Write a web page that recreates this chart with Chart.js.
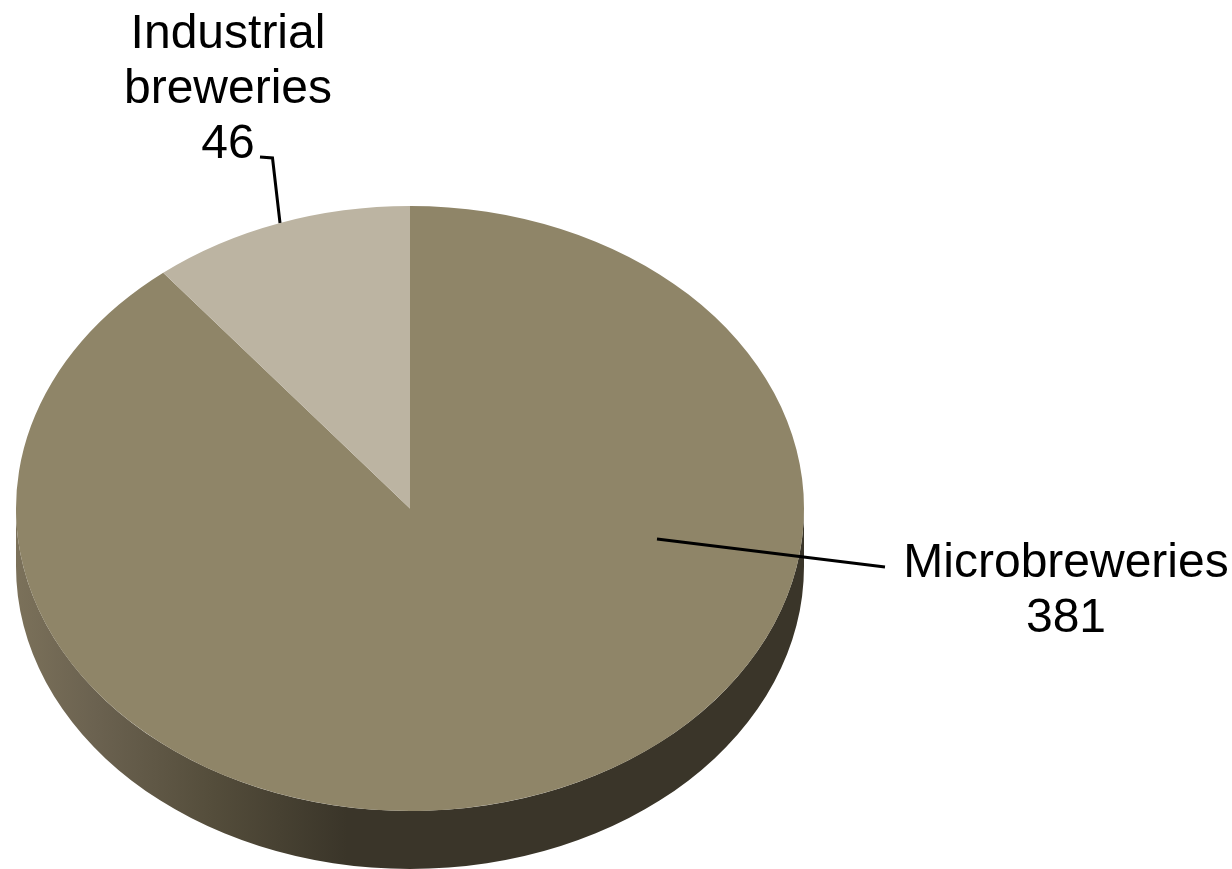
<!DOCTYPE html>
<html>
<head>
<meta charset="utf-8">
<title>Breweries</title>
<style>
  html, body { margin: 0; padding: 0; background: #ffffff; }
  canvas { display: block; }
</style>
<script src="https://cdn.jsdelivr.net/npm/chart.js@4"></script>
</head>
<body>
<canvas id="chartBreweries" width="1232" height="869"></canvas>
<script>
const categories = ['Microbreweries', 'Industrial breweries'];
const breweryCounts = [381, 46];
const sliceColors = ['#8f8568', '#bcb4a2'];
const labelLines = [['Microbreweries', '381'], ['Industrial', 'breweries', '46']];

// centre of the tilted top face and how flat/thick it looks
const pieCenterY = 508.5;
const flatten = 302.5 / 394;
const depth = 58;

const tiltedPie = {
    id: 'tiltedPie',
    beforeDatasetsDraw(chart) {
        const arc = chart.getDatasetMeta(0).data[0];
        const ctx = chart.ctx;
        const rx = arc.outerRadius;
        const ry = rx * flatten;

        // side wall, only the front half shows
        const wall = ctx.createLinearGradient(arc.x - rx, 0, arc.x + rx, 0);
        wall.addColorStop(0, '#7b715a');
        wall.addColorStop(0.1, '#6b6250');
        wall.addColorStop(0.25, '#544d3b');
        wall.addColorStop(0.42, '#3a3529');
        wall.addColorStop(1, '#3a3529');
        ctx.save();
        ctx.fillStyle = wall;
        ctx.beginPath();
        ctx.ellipse(arc.x, pieCenterY, rx, ry, 0, Math.PI, 0, true);
        ctx.lineTo(arc.x + rx, pieCenterY + depth);
        ctx.ellipse(arc.x, pieCenterY + depth, rx, ry, 0, 0, Math.PI, false);
        ctx.closePath();
        ctx.fill();
        ctx.restore();

        // squash the slices into the ellipse
        ctx.save();
        ctx.translate(0, pieCenterY);
        ctx.scale(1, flatten);
        ctx.translate(0, -arc.y);
    },
    afterDatasetsDraw(chart) {
        const ctx = chart.ctx;
        ctx.restore();

        ctx.save();
        ctx.strokeStyle = '#000000';
        ctx.lineWidth = 3;
        ctx.beginPath();
        ctx.moveTo(657, 539);
        ctx.lineTo(885, 567);
        ctx.moveTo(280, 223);
        ctx.lineTo(272.5, 158);
        ctx.lineTo(260, 157);
        ctx.stroke();

        ctx.fillStyle = '#000000';
        ctx.font = '48px "Liberation Sans", Arial, sans-serif';
        ctx.textAlign = 'center';
        labelLines[0].forEach((line, i) => ctx.fillText(line, 1066, 577 + i * 55));
        labelLines[1].forEach((line, i) => ctx.fillText(line, 228, 48 + i * 55));
        ctx.restore();
    }
};

new Chart(document.getElementById('chartBreweries'), {
    type: 'pie',
    data: {
        labels: categories,
        datasets: [{
            label: 'Breweries',
            data: breweryCounts,
            backgroundColor: sliceColors,
            borderWidth: 0
        }]
    },
    options: {
        responsive: false,
        animation: false,
        devicePixelRatio: 1,
        layout: { padding: { left: 16, right: 428, top: 40, bottom: 41 } },
        plugins: {
            legend: { display: false },
            tooltip: { enabled: false }
        }
    },
    plugins: [tiltedPie]
});
</script>
</body>
</html>
